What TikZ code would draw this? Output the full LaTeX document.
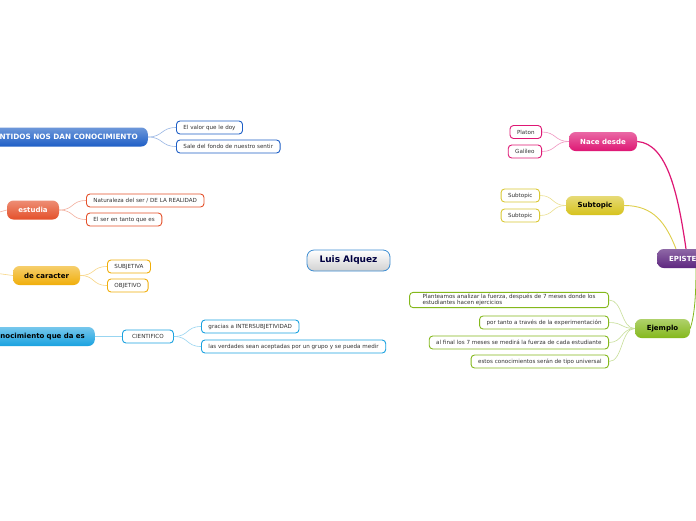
\documentclass[tikz,border=0pt]{standalone}
\usepackage{fontspec}
\setmainfont{DejaVu Sans}
\usetikzlibrary{positioning}
\definecolor{azul}{HTML}{1E5FC6}
\definecolor{naranja}{HTML}{E4502A}
\definecolor{oro}{HTML}{F0AE0A}
\definecolor{celeste}{HTML}{1AA2E0}
\definecolor{morado}{HTML}{5E2780}
\definecolor{rosa}{HTML}{DE1774}
\definecolor{amarillo}{HTML}{D6C21C}
\definecolor{verde}{HTML}{84B81C}
\definecolor{marco}{HTML}{3D8DD2}
\definecolor{letra}{HTML}{333333}

\tikzset{
  topic/.style={rounded corners=6.5pt, minimum height=19pt, inner xsep=8pt, inner ysep=0pt,
    font=\fontsize{7}{8}\selectfont\bfseries, text=white},
  leaf/.style={draw, line width=0.9pt, rounded corners=3.5pt, fill=white, minimum height=13pt,
    inner xsep=7pt, inner ysep=1.5pt, font=\fontsize{5.6}{6.6}\selectfont, text=letra},
  link/.style={line width=0.6pt}
}

\begin{document}
\begin{tikzpicture}[x=1pt,y=-1pt]
  \useasboundingbox[fill=white] (0,0) rectangle (696,520);

  % Centre
  \node[draw=marco, line width=0.8pt, rounded corners=7pt, top color=white, bottom color=black!18,
    minimum width=83pt, minimum height=21pt, font=\fontsize{9}{10}\selectfont\bfseries,
    text=blue!25!black] (luis) at (348.5,260.5) {Luis Alquez};

  % Left: sentidos
  \node[topic, top color=azul!65, bottom color=azul, text width=150pt, align=right, anchor=east, inner xsep=10pt,
    font=\fontsize{7.3}{8}\selectfont\bfseries]
    (sentidos) at (148,137) {NTIDOS NOS DAN CONOCIMIENTO};
  \node[leaf, draw=azul, anchor=west] (valor) at (176,127.5) {El valor que le doy};
  \node[leaf, draw=azul, anchor=west] (fondo) at (176,146.5) {Sale del fondo de nuestro sentir};
  \foreach \c in {valor,fondo}
    \draw[link, azul!45] (sentidos.east) .. controls +(15,0) and +(-15,0) .. (\c.west);

  % Left: estudia
  \coordinate (estudiaIn) at (-2,212.5);
  \node[topic, top color=naranja!65, bottom color=naranja, minimum width=52pt] (estudia) at (33,210) {estudia};
  \node[leaf, draw=naranja, anchor=west] (naturaleza) at (86,200.5) {Naturaleza del ser / DE LA REALIDAD};
  \node[leaf, draw=naranja, anchor=west] (ser) at (86,219.5) {El ser en tanto que es};
  \draw[link, naranja!45] (estudiaIn) -- (estudia.west);
  \foreach \c in {naturaleza,ser}
    \draw[link, naranja!45] (estudia.east) .. controls +(15,0) and +(-15,0) .. (\c.west);

  % Left: de caracter
  \coordinate (caracterIn) at (-2,273.5);
  \node[topic, top color=oro!60, bottom color=oro, minimum width=67pt, text=black] (caracter) at (46.5,275.5) {de caracter};
  \node[leaf, draw=oro, anchor=west] (subjetiva) at (107,266.5) {SUBJETIVA};
  \node[leaf, draw=oro, anchor=west] (objetivo) at (107,285.5) {OBJETIVO};
  \draw[link, oro!50] (caracterIn) -- (caracter.west);
  \foreach \c in {subjetiva,objetivo}
    \draw[link, oro!50] (caracter.east) .. controls +(15,0) and +(-15,0) .. (\c.west);

  % Left: conocimiento
  \node[topic, top color=celeste!60, bottom color=celeste, text width=110pt, align=right, anchor=east, text=black, inner xsep=10pt]
    (conoc) at (95,336.5) {nocimiento que da es};
  \node[leaf, draw=celeste, anchor=west, minimum width=51pt] (cientifico) at (122,336.5) {CIENTIFICO};
  \node[leaf, draw=celeste, anchor=west] (gracias) at (201,326.5) {gracias a INTERSUBJETIVIDAD};
  \node[leaf, draw=celeste, anchor=west] (verdades) at (201,346.5) {las verdades sean aceptadas por un grupo y se pueda medir};
  \draw[link, celeste!45] (conoc.east) -- (cientifico.west);
  \foreach \c in {gracias,verdades}
    \draw[link, celeste!45] (cientifico.east) .. controls +(15,0) and +(-15,0) .. (\c.west);

  % Right: episteme
  \node[topic, top color=morado!70, bottom color=morado, text width=60pt, align=left, anchor=west, inner xsep=12pt]
    (episte) at (657,258.5) {EPISTE};

  % Right: nace desde
  \node[topic, top color=rosa!65, bottom color=rosa, minimum width=68pt] (nace) at (603,141.5) {Nace desde};
  \node[leaf, draw=rosa, anchor=east] (platon) at (542,132) {Platon};
  \node[leaf, draw=rosa, anchor=east] (galileo) at (542,151.5) {Galileo};
  \foreach \c in {platon,galileo}
    \draw[link, rosa!45] (nace.west) .. controls +(-14,0) and +(14,0) .. (\c.east);
  \draw[line width=1.2pt, rosa] (nace.east) .. controls +(30,2) and +(-8,-55) .. ([xshift=29pt]episte.north west);

  % Right: subtopic
  \node[topic, top color=amarillo!60, bottom color=amarillo, minimum width=58pt, text=black] (sub) at (595,205.5) {Subtopic};
  \node[leaf, draw=amarillo!90, anchor=east] (subA) at (540,195.5) {Subtopic};
  \node[leaf, draw=amarillo!90, anchor=east] (subB) at (540,215.5) {Subtopic};
  \foreach \c in {subA,subB}
    \draw[link, amarillo!50] (sub.west) .. controls +(-14,0) and +(14,0) .. (\c.east);
  \draw[line width=0.9pt, amarillo!80] (sub.east) .. controls +(30,0) and +(-10,-25) .. ([xshift=19pt]episte.north west);

  % Right: ejemplo
  \node[topic, top color=verde!65, bottom color=verde, minimum width=55pt, text=black] (ejemplo) at (662.5,328.5) {Ejemplo};
  \node[leaf, draw=verde, anchor=east, align=left, inner xsep=13pt] (plantea) at (609,300)
    {Planteamos analizar la fuerza, después de 7 meses donde los\\estudiantes hacen ejercicios};
  \node[leaf, draw=verde, anchor=east] (tanto) at (609,322.5) {por tanto a través de la experimentación};
  \node[leaf, draw=verde, anchor=east] (final) at (609,342.5) {al final los 7 meses se medirá la fuerza de cada estudiante};
  \node[leaf, draw=verde, anchor=east] (universal) at (609,361.5) {estos conocimientos serán de tipo universal};
  \foreach \c in {plantea,tanto,final,universal}
    \draw[link, verde!45] (ejemplo.west) .. controls +(-14,0) and +(14,0) .. (\c.east);
  \draw[line width=0.8pt, verde] ([xshift=39pt]episte.south west) .. controls +(0,30) and +(4,-12) .. (ejemplo.east);
\end{tikzpicture}
\end{document}
